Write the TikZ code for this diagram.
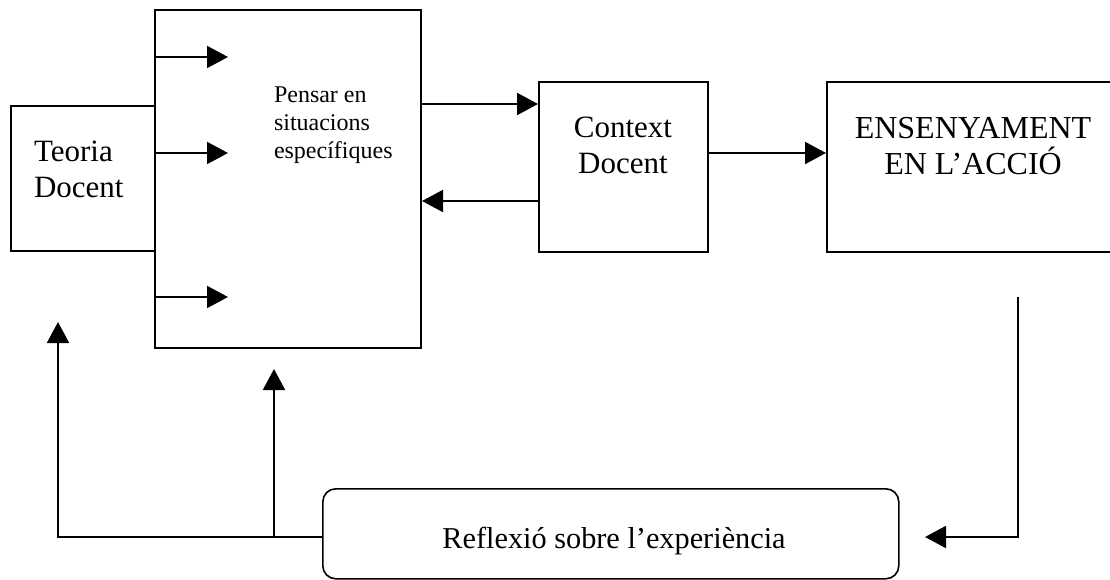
\documentclass[tikz,border=0pt]{standalone}
\usepackage{fontspec}
\setmainfont{Liberation Serif}
\usetikzlibrary{arrows.meta}
\begin{document}
\begin{tikzpicture}[x=1pt,y=-1pt,line width=2pt,
  box/.style={draw,rectangle,inner sep=0pt,anchor=north west},
  arr/.style={-{Triangle[length=21pt,width=22pt]}},
  txt/.style={inner sep=0pt}]
\useasboundingbox (0,0) rectangle (1110,580);
\clip (0,0) rectangle (1110,580);

% boxes
\node[box,minimum width=144pt,minimum height=145pt] (teoria) at (10,105) {};
\node[box,minimum width=266pt,minimum height=338pt] (pensar) at (154,9) {};
\node[box,minimum width=169pt,minimum height=170pt] (context) at (538,81) {};
\node[box,minimum width=294pt,minimum height=170pt] (ensenyament) at (826,81) {};
\node[box,rounded corners=13pt,line width=1.6pt,minimum width=576pt,minimum height=90pt] (reflexio) at (322,488) {};

% texts
\node[txt,font=\fontsize{31}{36}\selectfont,align=left,anchor=north west] (teoriaTxt) at (33,140) {Teoria\\Docent};
\node[txt,font=\fontsize{24}{28}\selectfont,align=left,anchor=north west] (pensarTxt) at (273,86) {Pensar en\\situacions\\específiques};
\node[txt,font=\fontsize{31}{36}\selectfont,align=center,anchor=north] (contextTxt) at (623,116) {Context\\Docent};
\node[txt,font=\fontsize{32}{36}\selectfont,align=center,anchor=north] (ensTxt) at (973,116) {ENSENYAMENT\\EN L’ACCIÓ};
\node[txt,font=\fontsize{30.3}{34}\selectfont,anchor=base] (reflTxt) at (614,548) {Reflexió sobre l’experiència};

% helper coordinates
\coordinate (in1) at (228,57);
\coordinate (in2) at (228,153);
\coordinate (in3) at (228,297);
\coordinate (yA) at (0,104);
\coordinate (yB) at (0,201);
\coordinate (yC) at (0,153);
\coordinate (fbTop) at (1018,297);
\coordinate (fbTip) at (925,537);
\coordinate (yFb) at (0,537);
\coordinate (upTeoria) at (58,322);
\coordinate (branch) at (274,537);
\coordinate (upPensar) at (274,369);

% arrows into the thinking box
\draw[arr] (pensar.west |- in1) -- (in1);
\draw[arr] (pensar.west |- in2) -- (in2);
\draw[arr] (pensar.west |- in3) -- (in3);

% main flow
\draw[arr] (pensar.east |- yA) -- (context.west |- yA);
\draw[arr] (context.west |- yB) -- (pensar.east |- yB);
\draw[arr] (context.east |- yC) -- (ensenyament.west |- yC);

% feedback loop
\draw[arr] (fbTop) |- (fbTip);
\draw[arr] (reflexio.west |- yFb) -| (upTeoria);
\draw[arr] (branch) -- (upPensar);
\end{tikzpicture}
\end{document}
